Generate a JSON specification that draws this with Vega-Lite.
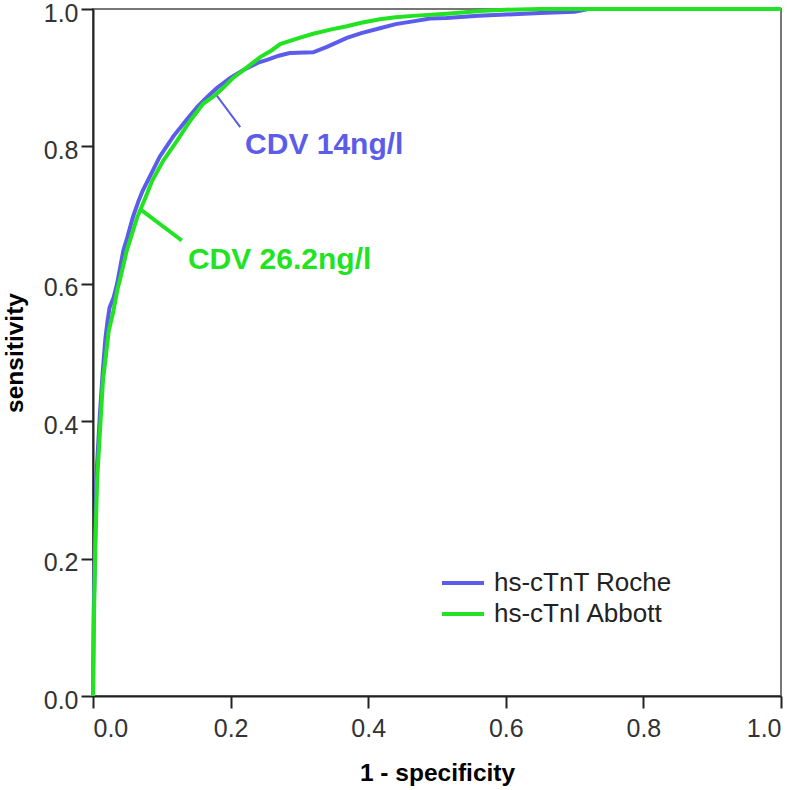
{
  "$schema": "https://vega.github.io/schema/vega-lite/v6.json",
  "width": 688,
  "height": 687,
  "autosize": {"type": "none"},
  "padding": {"left": 93, "top": 9, "right": 19, "bottom": 94},
  "background": "white",
  "config": {
    "font": "Liberation Sans",
    "view": {"stroke": "#777777", "strokeWidth": 2},
    "axis": {
      "grid": false,
      "domainColor": "#222222",
      "domainWidth": 2,
      "tickColor": "#222222",
      "tickWidth": 2,
      "tickSize": 12,
      "labelFont": "Liberation Sans",
      "labelFontSize": 25,
      "labelColor": "#333333",
      "labelPadding": 3,
      "titleFont": "Liberation Sans",
      "titleFontSize": 24.5,
      "titleFontWeight": "bold",
      "titleColor": "#000000"
    }
  },
  "datasets": {
    "roc": [
      {"fpr": 0, "sens": 0, "assay": "hs-cTnT Roche"},
      {"fpr": 0.001, "sens": 0.12, "assay": "hs-cTnT Roche"},
      {"fpr": 0.003, "sens": 0.22, "assay": "hs-cTnT Roche"},
      {"fpr": 0.005, "sens": 0.32, "assay": "hs-cTnT Roche"},
      {"fpr": 0.01, "sens": 0.41, "assay": "hs-cTnT Roche"},
      {"fpr": 0.014, "sens": 0.47, "assay": "hs-cTnT Roche"},
      {"fpr": 0.018, "sens": 0.52, "assay": "hs-cTnT Roche"},
      {"fpr": 0.021, "sens": 0.545, "assay": "hs-cTnT Roche"},
      {"fpr": 0.024, "sens": 0.565, "assay": "hs-cTnT Roche"},
      {"fpr": 0.03, "sens": 0.58, "assay": "hs-cTnT Roche"},
      {"fpr": 0.035, "sens": 0.6, "assay": "hs-cTnT Roche"},
      {"fpr": 0.044, "sens": 0.648, "assay": "hs-cTnT Roche"},
      {"fpr": 0.05, "sens": 0.668, "assay": "hs-cTnT Roche"},
      {"fpr": 0.058, "sens": 0.697, "assay": "hs-cTnT Roche"},
      {"fpr": 0.066, "sens": 0.72, "assay": "hs-cTnT Roche"},
      {"fpr": 0.072, "sens": 0.735, "assay": "hs-cTnT Roche"},
      {"fpr": 0.082, "sens": 0.755, "assay": "hs-cTnT Roche"},
      {"fpr": 0.097, "sens": 0.785, "assay": "hs-cTnT Roche"},
      {"fpr": 0.117, "sens": 0.815, "assay": "hs-cTnT Roche"},
      {"fpr": 0.137, "sens": 0.84, "assay": "hs-cTnT Roche"},
      {"fpr": 0.152, "sens": 0.858, "assay": "hs-cTnT Roche"},
      {"fpr": 0.166, "sens": 0.872, "assay": "hs-cTnT Roche"},
      {"fpr": 0.18, "sens": 0.885, "assay": "hs-cTnT Roche"},
      {"fpr": 0.2, "sens": 0.9, "assay": "hs-cTnT Roche"},
      {"fpr": 0.22, "sens": 0.912, "assay": "hs-cTnT Roche"},
      {"fpr": 0.24, "sens": 0.922, "assay": "hs-cTnT Roche"},
      {"fpr": 0.253, "sens": 0.926, "assay": "hs-cTnT Roche"},
      {"fpr": 0.27, "sens": 0.932, "assay": "hs-cTnT Roche"},
      {"fpr": 0.286, "sens": 0.936, "assay": "hs-cTnT Roche"},
      {"fpr": 0.32, "sens": 0.937, "assay": "hs-cTnT Roche"},
      {"fpr": 0.34, "sens": 0.945, "assay": "hs-cTnT Roche"},
      {"fpr": 0.369, "sens": 0.958, "assay": "hs-cTnT Roche"},
      {"fpr": 0.39, "sens": 0.965, "assay": "hs-cTnT Roche"},
      {"fpr": 0.417, "sens": 0.972, "assay": "hs-cTnT Roche"},
      {"fpr": 0.44, "sens": 0.978, "assay": "hs-cTnT Roche"},
      {"fpr": 0.465, "sens": 0.982, "assay": "hs-cTnT Roche"},
      {"fpr": 0.49, "sens": 0.986, "assay": "hs-cTnT Roche"},
      {"fpr": 0.514, "sens": 0.987, "assay": "hs-cTnT Roche"},
      {"fpr": 0.56, "sens": 0.99, "assay": "hs-cTnT Roche"},
      {"fpr": 0.6, "sens": 0.992, "assay": "hs-cTnT Roche"},
      {"fpr": 0.65, "sens": 0.994, "assay": "hs-cTnT Roche"},
      {"fpr": 0.7, "sens": 0.996, "assay": "hs-cTnT Roche"},
      {"fpr": 0.72, "sens": 1.0, "assay": "hs-cTnT Roche"},
      {"fpr": 1.0, "sens": 1.0, "assay": "hs-cTnT Roche"},
      {"fpr": 0, "sens": 0, "assay": "hs-cTnI Abbott"},
      {"fpr": 0.0015, "sens": 0.12, "assay": "hs-cTnI Abbott"},
      {"fpr": 0.0034, "sens": 0.217, "assay": "hs-cTnI Abbott"},
      {"fpr": 0.006, "sens": 0.314, "assay": "hs-cTnI Abbott"},
      {"fpr": 0.011, "sens": 0.401, "assay": "hs-cTnI Abbott"},
      {"fpr": 0.0145, "sens": 0.459, "assay": "hs-cTnI Abbott"},
      {"fpr": 0.023, "sens": 0.532, "assay": "hs-cTnI Abbott"},
      {"fpr": 0.029, "sens": 0.557, "assay": "hs-cTnI Abbott"},
      {"fpr": 0.036, "sens": 0.594, "assay": "hs-cTnI Abbott"},
      {"fpr": 0.039, "sens": 0.605, "assay": "hs-cTnI Abbott"},
      {"fpr": 0.049, "sens": 0.648, "assay": "hs-cTnI Abbott"},
      {"fpr": 0.064, "sens": 0.696, "assay": "hs-cTnI Abbott"},
      {"fpr": 0.076, "sens": 0.725, "assay": "hs-cTnI Abbott"},
      {"fpr": 0.086, "sens": 0.75, "assay": "hs-cTnI Abbott"},
      {"fpr": 0.102, "sens": 0.779, "assay": "hs-cTnI Abbott"},
      {"fpr": 0.122, "sens": 0.808, "assay": "hs-cTnI Abbott"},
      {"fpr": 0.141, "sens": 0.837, "assay": "hs-cTnI Abbott"},
      {"fpr": 0.16, "sens": 0.862, "assay": "hs-cTnI Abbott"},
      {"fpr": 0.177, "sens": 0.874, "assay": "hs-cTnI Abbott"},
      {"fpr": 0.19, "sens": 0.886, "assay": "hs-cTnI Abbott"},
      {"fpr": 0.204, "sens": 0.9, "assay": "hs-cTnI Abbott"},
      {"fpr": 0.22, "sens": 0.912, "assay": "hs-cTnI Abbott"},
      {"fpr": 0.243, "sens": 0.93, "assay": "hs-cTnI Abbott"},
      {"fpr": 0.26, "sens": 0.94, "assay": "hs-cTnI Abbott"},
      {"fpr": 0.272, "sens": 0.949, "assay": "hs-cTnI Abbott"},
      {"fpr": 0.3, "sens": 0.958, "assay": "hs-cTnI Abbott"},
      {"fpr": 0.32, "sens": 0.964, "assay": "hs-cTnI Abbott"},
      {"fpr": 0.345, "sens": 0.97, "assay": "hs-cTnI Abbott"},
      {"fpr": 0.369, "sens": 0.975, "assay": "hs-cTnI Abbott"},
      {"fpr": 0.39, "sens": 0.98, "assay": "hs-cTnI Abbott"},
      {"fpr": 0.417, "sens": 0.985, "assay": "hs-cTnI Abbott"},
      {"fpr": 0.44, "sens": 0.988, "assay": "hs-cTnI Abbott"},
      {"fpr": 0.465, "sens": 0.99, "assay": "hs-cTnI Abbott"},
      {"fpr": 0.514, "sens": 0.993, "assay": "hs-cTnI Abbott"},
      {"fpr": 0.5625, "sens": 0.997, "assay": "hs-cTnI Abbott"},
      {"fpr": 0.6, "sens": 0.999, "assay": "hs-cTnI Abbott"},
      {"fpr": 0.65, "sens": 1.0, "assay": "hs-cTnI Abbott"},
      {"fpr": 1.0, "sens": 1.0, "assay": "hs-cTnI Abbott"}
    ],
    "leaders": [
      {"x": 0.18, "y": 0.874, "x2": 0.214, "y2": 0.828, "assay": "hs-cTnT Roche"},
      {"x": 0.068, "y": 0.709, "x2": 0.129, "y2": 0.663, "assay": "hs-cTnI Abbott"}
    ],
    "labels": [
      {"x": 0.221, "y": 0.789, "text": "CDV 14ng/l", "assay": "hs-cTnT Roche"},
      {"x": 0.138, "y": 0.622, "text": "CDV 26.2ng/l", "assay": "hs-cTnI Abbott"}
    ]
  },
  "layer": [
    {
      "data": {"name": "roc"},
      "mark": {"type": "line", "strokeWidth": 4, "interpolate": "linear"},
      "encoding": {
        "x": {
          "field": "fpr", "type": "quantitative",
          "scale": {"domain": [0, 1], "nice": false, "zero": true},
          "axis": {"values": [0, 0.2, 0.4, 0.6, 0.8, 1.0], "format": ".1f", "title": "1 - specificity", "titlePadding": 20, "labelPadding": 8}
        },
        "y": {
          "field": "sens", "type": "quantitative",
          "scale": {"domain": [0, 1], "nice": false},
          "axis": {"values": [0, 0.2, 0.4, 0.6, 0.8, 1.0], "format": ".1f", "title": "sensitivity", "titlePadding": 16, "labelOffset": 4}
        },
        "color": {
          "field": "assay", "type": "nominal",
          "scale": {"domain": ["hs-cTnT Roche", "hs-cTnI Abbott"], "range": ["#5c5ceb", "#22e322"]},
          "legend": {
            "title": null,
            "orient": "none",
            "legendX": 353,
            "legendY": 557,
            "symbolType": "M-1.4,0H1.4",
            "symbolSize": 900,
            "symbolStrokeWidth": 4,
            "labelFont": "Liberation Sans",
            "labelFontSize": 26,
            "labelColor": "#222222",
            "labelLimit": 400,
            "labelOffset": 14,
            "rowPadding": 1
          }
        },
        "order": {"field": "fpr", "type": "quantitative"}
      }
    },
    {
      "data": {"name": "leaders"},
      "mark": {"type": "rule"},
      "encoding": {
        "x": {"field": "x", "type": "quantitative"},
        "y": {"field": "y", "type": "quantitative"},
        "x2": {"field": "x2"},
        "y2": {"field": "y2"},
        "color": {"field": "assay", "type": "nominal", "legend": null},
        "strokeWidth": {"condition": {"test": "datum.assay === 'hs-cTnT Roche'", "value": 2}, "value": 4}
      }
    },
    {
      "data": {"name": "labels"},
      "mark": {"type": "text", "align": "left", "baseline": "alphabetic", "fontSize": 30, "fontWeight": "bold", "font": "Liberation Sans"},
      "encoding": {
        "x": {"field": "x", "type": "quantitative"},
        "y": {"field": "y", "type": "quantitative"},
        "text": {"field": "text"},
        "color": {"field": "assay", "type": "nominal", "legend": null}
      }
    }
  ]
}
